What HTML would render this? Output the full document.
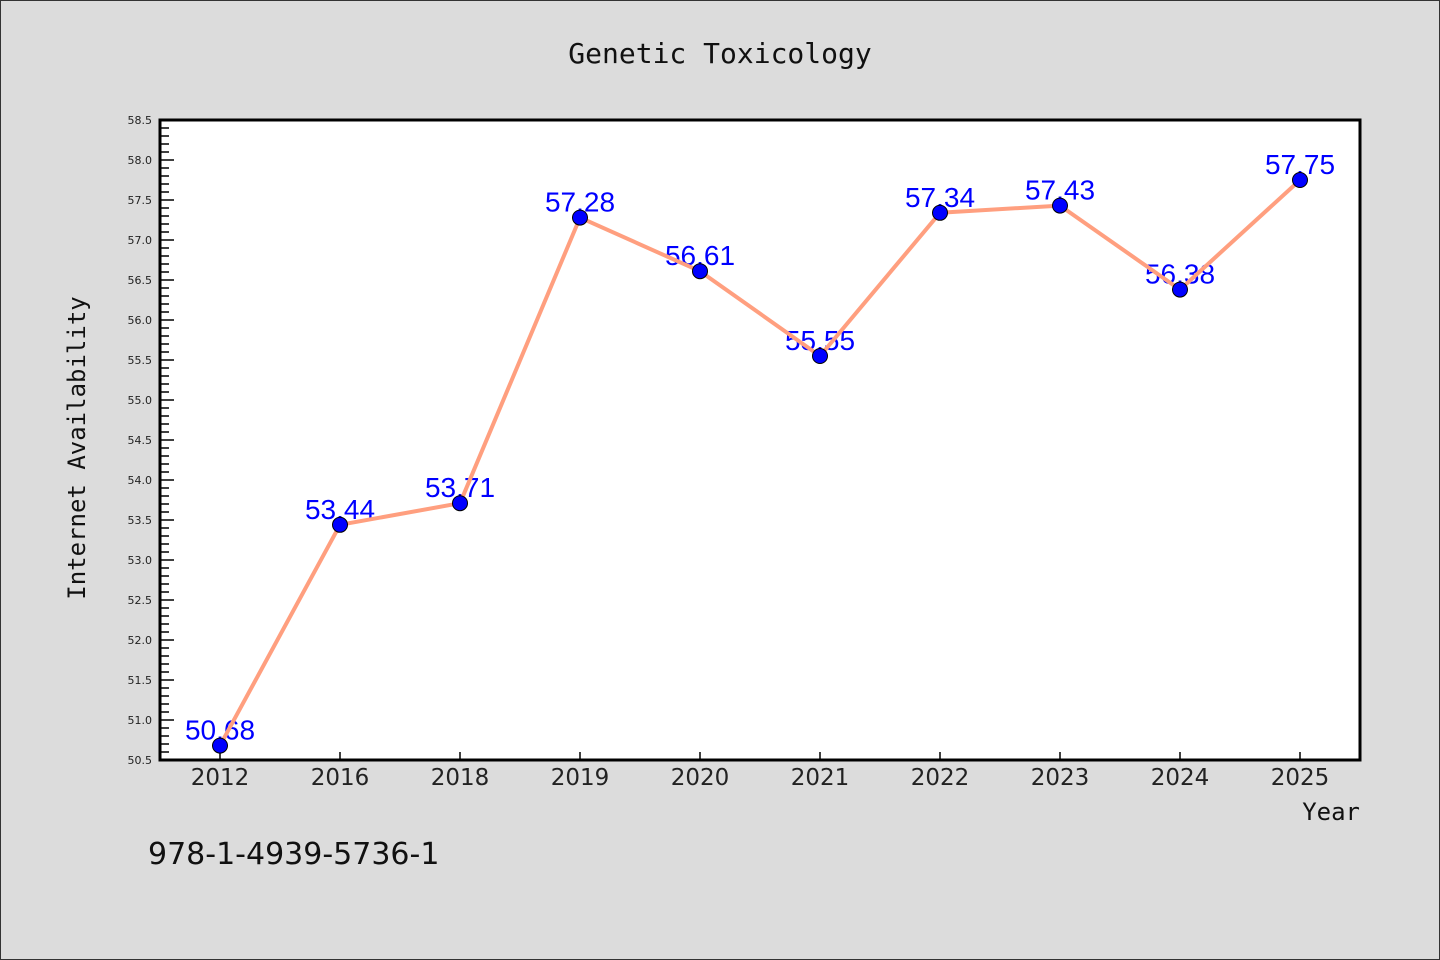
<!DOCTYPE html>
<html><head><meta charset="utf-8"><style>
html,body{margin:0;padding:0;background:#dcdcdc;}
svg{display:block;}
</style></head><body>
<svg id="chart" width="1440" height="960" xmlns="http://www.w3.org/2000/svg">
<rect x="0.5" y="0.5" width="1439" height="959" fill="#dcdcdc" stroke="#333" stroke-width="1"/>
<text x="720" y="63" text-anchor="middle" font-family="'DejaVu Sans Mono', monospace" font-size="28" fill="#111">Genetic Toxicology</text>
<rect x="160" y="120" width="1200" height="640" fill="#fff"/>
<g id="yaxis"></g>
<g id="xaxis"></g>
<g id="labels"></g>
<g id="series"></g>
<g id="points"></g>
<rect x="160" y="120" width="1200" height="640" fill="none" stroke="#000" stroke-width="3"/>
<text transform="translate(85,448) rotate(-90)" text-anchor="middle" font-family="'DejaVu Sans Mono', monospace" font-size="24" fill="#111">Internet Availability</text>
<text x="1360" y="820" text-anchor="end" font-family="'DejaVu Sans Mono', monospace" font-size="24" fill="#111">Year</text>
<text x="148" y="864" font-family="'DejaVu Sans', sans-serif" font-size="30" fill="#111">978-1-4939-5736-1</text>
</svg>
<script>
const categories = ["2012","2016","2018","2019","2020","2021","2022","2023","2024","2025"];
const values = [50.68,53.44,53.71,57.28,56.61,55.55,57.34,57.43,56.38,57.75];
const valueLabels = ["50.68","53.44","53.71","57.28","56.61","55.55","57.34","57.43","56.38","57.75"];
const yTickLabels = ["50.5","51.0","51.5","52.0","52.5","53.0","53.5","54.0","54.5","55.0","55.5","56.0","56.5","57.0","57.5","58.0","58.5"];
const yMin = 50.5, yMax = 58.5;
const L=160,R=1360,T=120,B=760;
const NS="http://www.w3.org/2000/svg";
function y(v){return B-(v-yMin)/(yMax-yMin)*(B-T);}
function x(i){const s=(R-L)/categories.length;return L+s*(i+0.5);}
function mk(tag,attrs,parent){const e=document.createElementNS(NS,tag);for(const k in attrs)e.setAttribute(k,attrs[k]);parent.appendChild(e);return e;}
const ya=document.getElementById('yaxis');
for(let k=0;k<=Math.round((yMax-yMin)*10);k++){
  const v=yMin+k*0.1, major=k%5===0;
  const t=mk('line',{x1:L,x2:L+(major?14:9),y1:y(v),y2:y(v),stroke:'#000','stroke-width':1.5},ya);
  
  
}
yTickLabels.forEach(s=>{
  const t=mk('text',{x:L-8,y:y(parseFloat(s))+4,'text-anchor':'end','font-family':"'DejaVu Sans', sans-serif",'font-size':11,fill:'#222'},ya);
  
  
  t.textContent=s;
});
const xa=document.getElementById('xaxis');
categories.forEach((c,i)=>{
  const l=mk('line',{x1:x(i),x2:x(i),y1:B,y2:B-8,stroke:'#000','stroke-width':1.5},xa);
  
  
  const t=mk('text',{x:x(i),y:B+25,'text-anchor':'middle','font-family':"'DejaVu Sans', sans-serif",'font-size':23,fill:'#222'},xa);
  
  
  t.textContent=c;
});
const lb=document.getElementById('labels');
values.forEach((v,i)=>{
  const t=mk('text',{x:x(i),y:y(v)-6,'text-anchor':'middle','font-family':"'Liberation Sans', sans-serif",'font-size':28,fill:'#0000ff'},lb);
  
  
  t.textContent=valueLabels[i];
});
const sr=document.getElementById('series');
const p=mk('polyline',{points:values.map((v,i)=>x(i)+','+y(v)).join(' '),fill:'none',stroke:'#ff9f7f','stroke-width':4,'stroke-linejoin':'round'},sr);


const pt=document.getElementById('points');
values.forEach((v,i)=>{
  const c=mk('circle',{cx:x(i),cy:y(v),r:7.5,fill:'#0000ff',stroke:'#000','stroke-width':1},pt);
  
  
});
</script>
</body></html>
